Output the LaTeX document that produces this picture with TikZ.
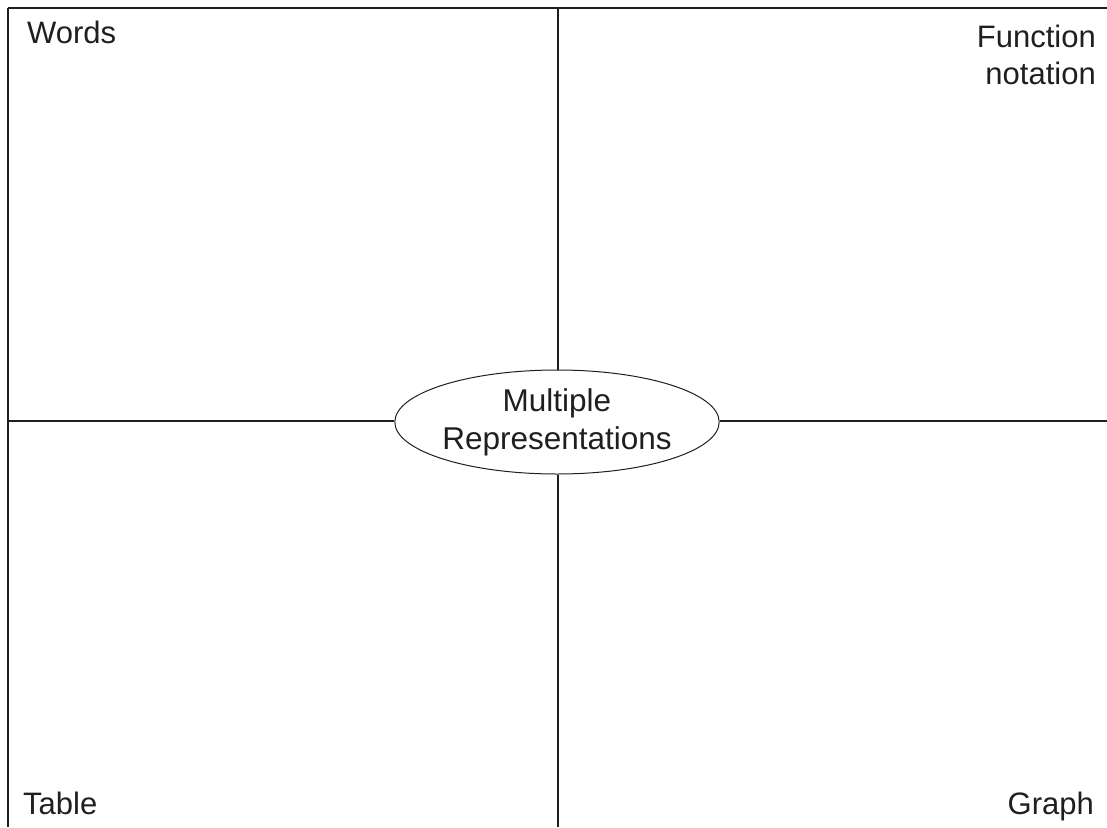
\documentclass[tikz,border=0pt]{standalone}
\usepackage{fontspec}
\setmainfont{Liberation Sans}
\usetikzlibrary{shapes.geometric}
\begin{document}
\begin{tikzpicture}[x=1pt,y=-1pt,
  rule/.style={line width=1.8pt, color=black!88},
  label/.style={inner sep=0pt, font=\fontsize{31}{38}\selectfont, text=black!88},
  hub/.style={ellipse, draw=black!88, line width=1pt, minimum width=320pt, minimum height=104pt, inner sep=0pt, align=center, font=\fontsize{31.5}{38}\selectfont, text=black!88}]
\useasboundingbox (0,0) rectangle (1107,827);
\coordinate (tl) at (8,8);
\coordinate (tr) at (1107,8);
\coordinate (bl) at (8,827);
\coordinate (ml) at (8,421);
\coordinate (mr) at (1107,421);
\coordinate (mt) at (558,8);
\coordinate (mb) at (558,827);
\node[hub] (hub) at (557,422) {Multiple\\Representations};
\draw[rule] (tl) -- (tr);
\draw[rule] (tl) -- (bl);
\draw[rule] (ml) -- (ml -| hub.west);
\draw[rule] (mr -| hub.east) -- (mr);
\draw[rule] (mt) -- (hub.north -| mt);
\draw[rule] (hub.south -| mb) -- (mb);
\node[label, anchor=base west] (words) at (27,43) {Words};
\node[label, anchor=base east] (func) at (1096,47) {Function};
\node[label, anchor=base east] (nota) at (1096,84) {notation};
\node[label, anchor=base west] (table) at (23,814) {Table};
\node[label, anchor=base east] (graph) at (1094,814) {Graph};
\end{tikzpicture}
\end{document}
